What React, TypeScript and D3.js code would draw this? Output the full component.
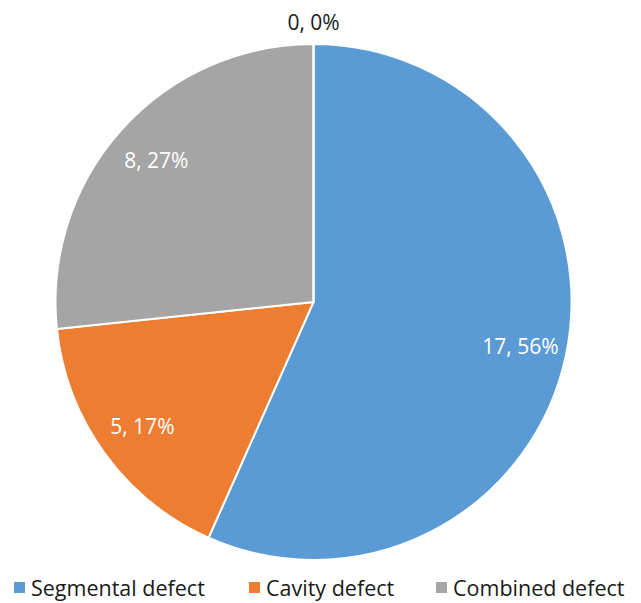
import React from "react";
import * as d3 from "d3";

const categories = ["Segmental defect", "Cavity defect", "Combined defect", "Other"];
const counts = [17, 5, 8, 0];
const percentLabels = ["56%", "17%", "27%", "0%"];
const colors = ["#5B9BD5", "#ED7D31", "#A5A5A5", "#FFC000"];
const legendItems = [0, 1, 2];

const W = 641;
const H = 603;
const cx = 313.5;
const cy = 302;
const R = 258;
const FONT = "'Open Sans', Lato, sans-serif";

export default function App() {
  const pie = d3.pie<number>().sort(null).value((d) => d)(counts);
  const arc = d3.arc<d3.PieArcDatum<number>>().innerRadius(0).outerRadius(R);
  const labelArc = d3.arc<d3.PieArcDatum<number>>().innerRadius(R * 0.82).outerRadius(R * 0.82);
  const outerArc = d3.arc<d3.PieArcDatum<number>>().innerRadius(R + 22).outerRadius(R + 22);
  const legendX = [14, 249, 436];

  return (
    <svg width={W} height={H} style={{ position: "absolute", left: 0, top: 0, background: "#fff" }}>
      <g transform={`translate(${cx},${cy})`}>
        {pie.map((p, i) => (
          <path key={i} d={arc(p) || ""} fill={colors[i]} stroke="#fff" strokeWidth={2} />
        ))}
        {pie.map((p, i) => {
          const zero = p.value === 0;
          const [x, y] = zero ? outerArc.centroid(p) : labelArc.centroid(p);
          return (
            <text
              key={i}
              x={x}
              y={y}
              textAnchor="middle"
              dominantBaseline="central"
              fontFamily={FONT}
              fontSize={21}
              fill={zero ? "#1a1a1a" : "#fff"}
            >
              {`${counts[i]}, ${percentLabels[i]}`}
            </text>
          );
        })}
      </g>
      {legendItems.map((i, k) => (
        <g key={i} transform={`translate(${legendX[k]},587)`}>
          <rect x={0} y={-5} width={11} height={11} fill={colors[i]} />
          <text x={17} y={0} dominantBaseline="central" fontFamily={FONT} fontSize={21.5} fill="#1a1a1a">
            {categories[i]}
          </text>
        </g>
      ))}
    </svg>
  );
}
